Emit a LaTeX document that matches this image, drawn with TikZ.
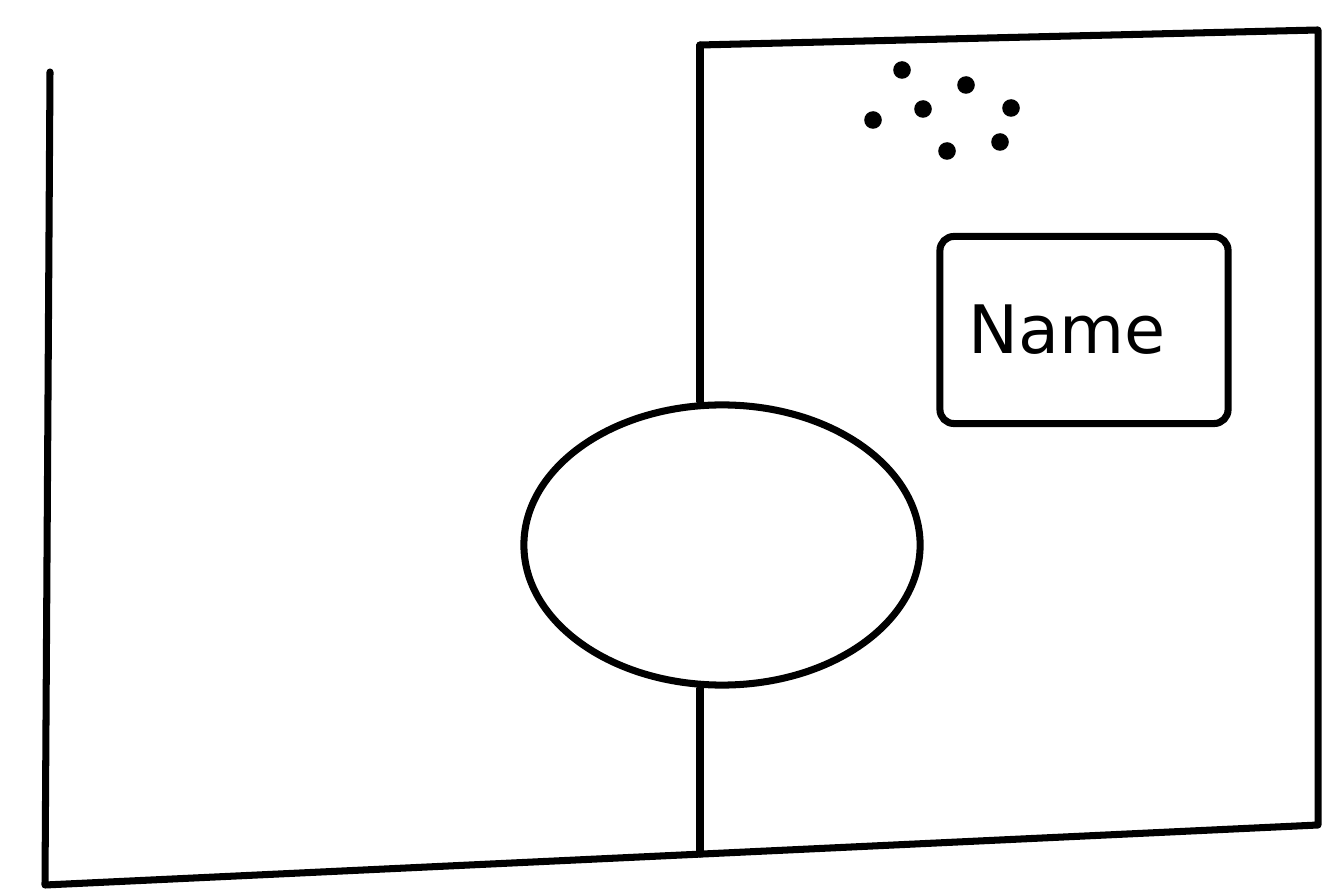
\documentclass[tikz,border=0pt]{standalone}
\usepackage{fontspec}
\setmainfont{DejaVu Sans}
\usetikzlibrary{positioning, shapes.geometric, calc}

\begin{document}
\begin{tikzpicture}[
  x=0.01cm, y=-0.01cm,
  pen/.style={draw, line width=2pt, line cap=round, line join=round},
  blob/.style={pen, ellipse, minimum width=3.96cm, minimum height=2.8cm},
  namebox/.style={pen, rounded corners=4pt, minimum width=2.88cm,
                  minimum height=1.87cm, text width=2.3cm,
                  font=\fontsize{19}{21}\selectfont},
  dot/.style={circle, fill, inner sep=0pt, minimum size=5pt}
]
\useasboundingbox (0,0) rectangle (1325,889);

% frame corners
\coordinate (tl) at (50,72);
\coordinate (bl) at (45,885);
\coordinate (br) at (1318,825);
\coordinate (pt) at (700,45);
\coordinate (tr) at (1318,30);
\coordinate (pb) at ($(bl)!0.515!(br)$);

% outer frame
\draw[pen] (tl) -- (bl) -- (br) -- (tr) -- (pt);

% circle on divider
\node[blob] (circ) at (722,545) {};
\draw[pen] (pt) -- (pt |- circ.north);
\draw[pen] (pt |- circ.south) -- (pt |- pb);

% name field
\node[namebox] (name) at (1084,330) {Name};

% dots
\foreach \px/\py [count=\k] in {902/70, 966/85, 923/109, 873/120,
                                1011/108, 1000/142, 947/151}
  \node[dot] (d\k) at (\px,\py) {};
\end{tikzpicture}
\end{document}
